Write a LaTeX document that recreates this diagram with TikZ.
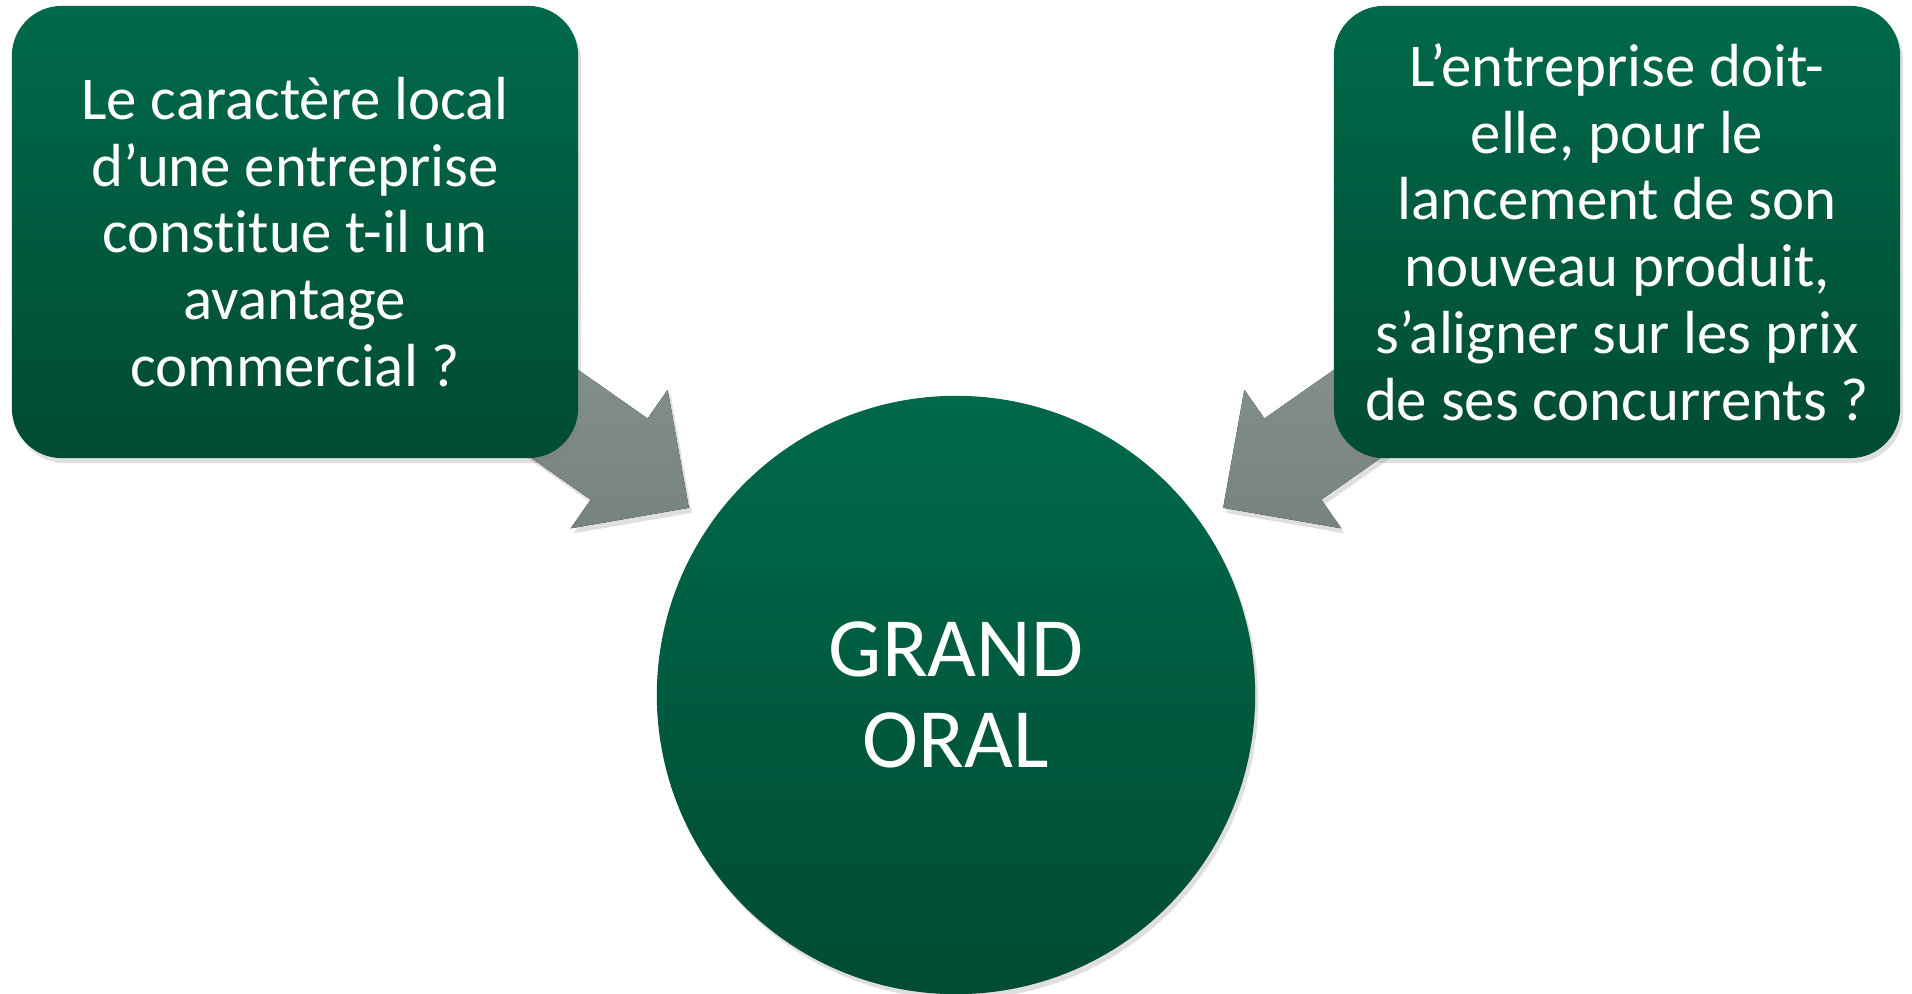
\documentclass[tikz,border=0pt]{standalone}
\usepackage{fontspec}
\setmainfont{Carlito}[Ligatures=NoCommon]
\usepackage{tikz}
\usetikzlibrary{calc,backgrounds,shadows,positioning}
\definecolor{greenTop}{RGB}{0,105,74}
\definecolor{greenBot}{RGB}{0,75,51}
\definecolor{arrowTop}{RGB}{143,156,149}
\definecolor{arrowBot}{RGB}{119,131,125}
\tikzset{softshadow/.style={drop shadow={opacity=0.25,shadow xshift=0.03cm,shadow yshift=-0.05cm}}}

\begin{document}
\begin{tikzpicture}[x=0.01cm,y=0.01cm]

\tikzset{questionbox/.style={shape=rectangle,rounded corners=0.5cm,minimum width=5.66cm,minimum height=4.52cm,top color=greenTop,bottom color=greenBot,text=white,align=center,font=\fontsize{17.3}{19}\selectfont,softshadow},
centrecircle/.style={shape=circle,minimum size=5.98cm,inner sep=0pt,top color=greenTop,bottom color=greenBot,text=white,align=center,font=\fontsize{24}{26}\selectfont,softshadow},
blockarrow/.style={top color=arrowTop,bottom color=arrowBot,softshadow}}

% Frame
\useasboundingbox (0,0) rectangle (1912,993);

% Nodes
\node[questionbox] (leftQ) at (295,761) {Le caractère local\\d’une entreprise\\constitue t-il un\\avantage\\commercial ?};
\node[questionbox] (rightQ) at (1617,761) {L’entreprise doit-\\elle, pour le\\lancement de son\\nouveau produit,\\s’aligner sur les prix\\de ses concurrents ?};
\node[centrecircle] (grandOral) at (956,298) {GRAND\\ORAL};

% Arrows
\begin{scope}[on background layer]
\foreach \q in {leftQ,rightQ} {
  \coordinate (tip) at ($(grandOral.center)!3.26cm!(\q.center)$);
  \coordinate (head) at ($(tip)!0.85cm!(\q.center)$);
  \fill[blockarrow] ($(\q.center)!0.495cm!90:(tip)$) -- ($(head)!0.495cm!90:(tip)$) -- ($(head)!0.845cm!90:(tip)$) -- (tip) -- ($(head)!0.845cm!-90:(tip)$) -- ($(head)!0.495cm!-90:(tip)$) -- ($(\q.center)!0.495cm!-90:(tip)$) -- cycle;
}
\end{scope}

\end{tikzpicture}
\end{document}
